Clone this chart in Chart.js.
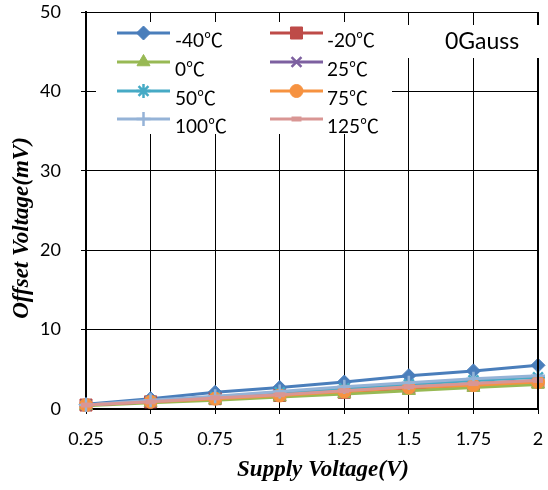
<!DOCTYPE html>
<html>
<head>
<meta charset="utf-8">
<script src="https://cdn.jsdelivr.net/npm/chart.js@4/dist/chart.umd.min.js"></script>
<style>
  html, body { margin: 0; padding: 0; background: #fff; }
  #wrap { width: 548px; height: 490px; }
</style>
</head>
<body>
<div id="wrap"><canvas id="c" width="548" height="490"></canvas></div>
<script>
// Supply voltage sweep (V) and the offset voltage (mV) measured at each temperature
const supplyVoltage = ['0.25', '0.5', '0.75', '1', '1.25', '1.5', '1.75', '2'];
const temperatures = ['-40℃', '-20℃', '0℃', '25℃', '50℃', '75℃', '100℃', '125℃'];

const offsetM40 = [0.6, 1.3, 2.1, 2.7, 3.4, 4.2, 4.8, 5.5];
const offsetM20 = [0.5, 0.9, 1.3, 1.7, 2.1, 2.6, 3.0, 3.4];
const offset0   = [0.4, 0.8, 1.1, 1.5, 1.9, 2.3, 2.7, 3.1];
const offset25  = [0.5, 0.9, 1.4, 1.8, 2.3, 2.7, 3.2, 3.6];
const offset50  = [0.5, 1.0, 1.5, 2.1, 2.6, 3.1, 3.6, 4.0];
const offset75  = [0.5, 0.9, 1.3, 1.7, 2.2, 2.7, 3.0, 3.4];
const offset100 = [0.5, 1.1, 1.6, 2.2, 2.8, 3.3, 3.8, 4.2];
const offset125 = [0.5, 0.9, 1.4, 1.8, 2.3, 2.8, 3.2, 3.6];

const yTickValues = [0, 10, 20, 30, 40, 50];
const fieldNote = '0Gauss';
const xTitle = 'Supply Voltage(V)';
const yTitle = 'Offset Voltage(mV)';

const seriesValues = [offsetM40, offsetM20, offset0, offset25, offset50, offset75, offset100, offset125];

// Line colour, marker shape and marker size per series
const seriesStyle = [
  { color: '#4A7EBB', marker: 'rectRot',  r: 7,   bw: 1 },
  { color: '#BE4B48', marker: 'rect',     r: 8.5, bw: 1 },
  { color: '#98B954', marker: 'triangle', r: 7.5, bw: 1 },
  { color: '#7D60A0', marker: 'crossRot', r: 7,   bw: 2.5 },
  { color: '#46AAC5', marker: 'star',     r: 7,   bw: 2.5 },
  { color: '#F69240', marker: 'circle',   r: 6.5, bw: 1 },
  { color: '#95B3D7', marker: 'cross',    r: 7,   bw: 2.5 },
  { color: '#D99694', marker: 'line',     r: 5,   bw: 5 }
];

const tickFont = { family: 'Lato, "Noto Sans", sans-serif', size: 18 };
const legendFontCss = '19px Lato, "Noto Sans CJK SC", "Noto Sans", sans-serif';
const titleFontCss = 'bold italic 23px "Liberation Serif", "DejaVu Serif", serif';

const datasets = seriesValues.map((vals, i) => ({
  label: temperatures[i],
  data: vals,
  borderColor: seriesStyle[i].color,
  backgroundColor: seriesStyle[i].color,
  borderWidth: 3,
  pointStyle: seriesStyle[i].marker,
  pointRadius: seriesStyle[i].r,
  pointHoverRadius: seriesStyle[i].r,
  pointBackgroundColor: seriesStyle[i].color,
  pointBorderColor: seriesStyle[i].color,
  pointBorderWidth: seriesStyle[i].bw,
  tension: 0,
  clip: false,
  order: -i
}));

function markerAt(ctx, style, x, y) {
  ctx.save();
  ctx.fillStyle = style.color;
  ctx.strokeStyle = style.color;
  ctx.lineWidth = style.bw;
  if (Chart.helpers && Chart.helpers.drawPoint) {
    Chart.helpers.drawPoint(ctx, { pointStyle: style.marker, radius: style.r, rotation: 0, borderWidth: style.bw }, x, y);
  } else {
    ctx.beginPath();
    ctx.arc(x, y, style.r, 0, Math.PI * 2);
    ctx.fill();
  }
  ctx.restore();
}

// Frame, legend box, note and axis titles drawn on top of the plot
const decorations = {
  id: 'decorations',
  afterDraw(chart) {
    const ctx = chart.ctx;
    const a = chart.chartArea;

    ctx.save();
    ctx.strokeStyle = '#000';
    ctx.lineWidth = 2;
    ctx.beginPath();
    ctx.moveTo(a.right, a.top);
    ctx.lineTo(a.right, a.bottom);
    ctx.stroke();

    // legend: two columns, four rows
    ctx.fillStyle = '#fff';
    ctx.fillRect(96, 22, 296, 112);
    const cols = [{ x0: 117, x1: 170, tx: 175 }, { x0: 270, x1: 323, tx: 327 }];
    const rows = [33, 62, 91, 119];
    temperatures.forEach((name, i) => {
      const c = cols[i % 2];
      const y = rows[Math.floor(i / 2)];
      const st = seriesStyle[i];
      ctx.strokeStyle = st.color;
      ctx.lineWidth = 3;
      ctx.beginPath();
      ctx.moveTo(c.x0, y);
      ctx.lineTo(c.x1, y);
      ctx.stroke();
      markerAt(ctx, st, (c.x0 + c.x1) / 2, y);
      ctx.fillStyle = '#000';
      ctx.font = legendFontCss;
      ctx.textAlign = 'left';
      ctx.textBaseline = 'alphabetic';
      ctx.fillText(name, c.tx, y + 14);
    });

    // magnetic field note
    ctx.fillStyle = '#fff';
    ctx.fillRect(405, 25, 134, 33);
    ctx.fillStyle = '#000';
    ctx.font = '23px Lato, "Noto Sans", sans-serif';
    ctx.textAlign = 'left';
    ctx.textBaseline = 'alphabetic';
    ctx.fillText(fieldNote, 445, 49);

    // axis titles
    ctx.font = titleFontCss;
    ctx.textAlign = 'center';
    ctx.textBaseline = 'middle';
    ctx.fillText(xTitle, 323, 470);
    ctx.translate(22, 228);
    ctx.rotate(-Math.PI / 2);
    ctx.fillText(yTitle, 0, 0);
    ctx.restore();
  }
};

new Chart(document.getElementById('c'), {
  type: 'line',
  data: { labels: supplyVoltage, datasets },
  options: {
    responsive: false,
    animation: false,
    events: [],
    layout: { padding: { left: 0, right: 6, top: 12, bottom: 0 } },
    plugins: { legend: { display: false }, tooltip: { enabled: false } },
    scales: {
      x: {
        type: 'category',
        offset: false,
        grid: { color: '#000', lineWidth: 1, tickLength: 5, drawTicks: true },
        border: { color: '#000', width: 2 },
        ticks: { font: tickFont, color: '#000', padding: 14, maxRotation: 0, autoSkip: false },
        afterFit(scale) {
          scale.height = 81;
          scale.paddingLeft = 0;
          scale.paddingRight = 0;
        }
      },
      y: {
        min: yTickValues[0],
        max: yTickValues[yTickValues.length - 1],
        afterBuildTicks(scale) { scale.ticks = yTickValues.map(v => ({ value: v })); },
        grid: { color: '#000', lineWidth: 1, tickLength: 5, drawTicks: true },
        border: { color: '#000', width: 2 },
        ticks: { font: tickFont, color: '#000', padding: 20 },
        afterFit(scale) {
          scale.width = 86;
          scale.paddingTop = 0;
          scale.paddingBottom = 0;
        }
      }
    }
  },
  plugins: [decorations]
});
</script>
</body>
</html>
